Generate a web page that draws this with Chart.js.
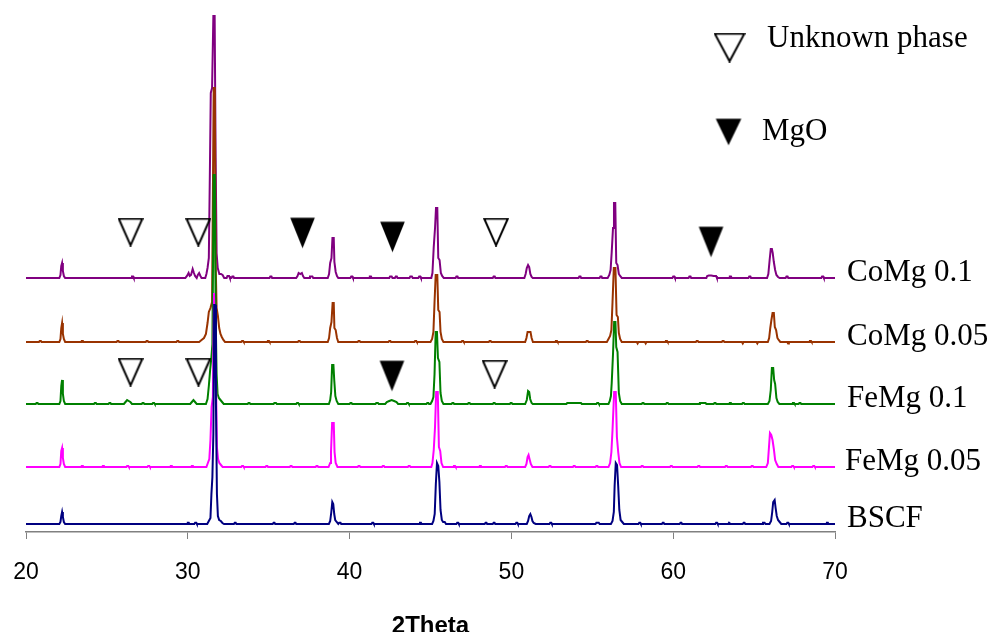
<!DOCTYPE html>
<html>
<head>
<meta charset="utf-8">
<title>XRD patterns</title>
<script src="https://cdn.jsdelivr.net/npm/chart.js@4.4.1/dist/chart.umd.min.js"></script>
<style>
  html, body { margin: 0; padding: 0; background: #ffffff; }
  #wrap { width: 995px; height: 632px; position: relative; }
</style>
</head>
<body>
<div id="wrap"><canvas id="xrd" width="995" height="632"></canvas></div>
<script>
// ---- data: [2theta, intensity above the pattern's own baseline] (a.u.) ----
const seriesNames = ['BSCF', 'FeMg 0.05', 'FeMg 0.1', 'CoMg 0.05', 'CoMg 0.1'];
const seriesColors = ['#000080', '#ff00ff', '#008000', '#993300', '#800080'];
// vertical stacking offset of each pattern
const offsets = [8, 65, 128, 190, 254];
// where each pattern name sits on the right
const labelAngles = [70.74, 70.62, 70.74, 70.74, 70.74];

const bscf = [
  [20,0],[22.06,0],[22.13,2],[22.18,8],[22.23,12],[22.28,7],[22.34,2],[22.42,0],
  [29.96,0],[30.0,1.2],[30.06,1.2],[30.1,0],[30.4,0],[30.45,1.2],[30.52,1.2],[30.56,0],
  [31.2,0],[31.3,3],[31.4,6],[31.46,30],[31.52,47],[31.58,90],[31.63,219],[31.69,219],[31.74,120],[31.8,30],[31.86,8],[31.94,4],[32.04,3],[32.14,1],[32.24,0],
  [32.85,0],[32.9,1.2],[32.96,1.2],[33.0,0],
  [35.25,0],[35.3,1.2],[35.36,1.2],[35.4,0],
  [36.55,0],[36.6,1.2],[36.66,1.2],[36.7,0],
  [38.72,0],[38.8,3],[38.87,12],[38.93,22],[38.99,20],[39.05,10],[39.11,4],[39.2,2],[39.3,0],[39.36,1.2],[39.44,1.2],[39.48,0],
  [41.35,0],[41.4,1.2],[41.46,1.2],[41.5,0],
  [44.3,0],[44.35,1.2],[44.41,1.2],[44.45,0],
  [45.1,0],[45.18,3],[45.26,10],[45.33,40],[45.4,61],[45.48,58],[45.55,42],[45.62,14],[45.7,4],[45.78,2],[45.88,2],[45.96,0],
  [46.6,0],[46.65,1.2],[46.71,1.2],[46.75,0],
  [48.35,0],[48.4,1.2],[48.46,1.2],[48.5,0],[48.85,0],[48.9,1.2],[48.96,1.2],[49.0,0],
  [50.25,0],[50.3,1.2],[50.36,1.2],[50.4,0],
  [50.95,0],[51.03,3],[51.1,8],[51.17,10],[51.24,7],[51.3,3],[51.38,1],[51.5,0],
  [52.35,0],[52.4,1.2],[52.46,1.2],[52.5,0],
  [55.2,0],[55.25,1.2],[55.4,1.2],[55.45,0],
  [56.15,0],[56.25,3],[56.33,12],[56.38,38],[56.45,61],[56.53,59],[56.6,38],[56.67,14],[56.75,4],[56.85,2],[56.95,0],
  [57.85,0],[57.9,1.2],[57.96,1.2],[58.0,0],
  [59.3,0],[59.35,1.2],[59.41,1.2],[59.45,0],
  [60.4,0],[60.45,1.2],[60.51,1.2],[60.55,0],
  [62.6,0],[62.65,1.2],[62.71,1.2],[62.75,0],
  [63.4,0],[63.45,1.2],[63.51,1.2],[63.55,0],
  [64.3,0],[64.35,1.2],[64.41,1.2],[64.45,0],
  [65.5,0],[65.55,1.2],[65.65,1.2],[65.7,0],
  [65.95,0],[66.05,3],[66.12,12],[66.18,22],[66.27,24],[66.33,16],[66.4,8],[66.48,4],[66.58,2],[66.68,0],
  [67.0,0],[67.05,1.2],[67.11,1.2],[67.15,0],
  [69.45,0],[69.5,1.2],[69.56,1.2],[69.6,0],[70,0]
];

const femg005 = [
  [20,0],[22.06,0],[22.13,3],[22.18,16],[22.23,19],[22.28,9],[22.34,3],[22.42,0],
  [23.4,0],[23.45,1],[23.52,1],[23.56,0],[24.7,0],[24.75,1],[24.82,1],[24.86,0],
  [26.2,0],[26.25,1],[26.32,1],[26.36,0],[27.5,0],[27.55,1],[27.62,1],[27.66,0],
  [28.9,0],[28.95,1],[29.02,1],[29.06,0],[30.2,0],[30.25,1],[30.32,1],[30.36,0],
  [31.15,0],[31.24,4],[31.33,8],[31.4,27],[31.47,60],[31.55,70],[31.62,174],[31.68,174],[31.74,90],[31.8,20],[31.87,8],[31.95,4],[32.05,2],[32.15,0],
  [33.3,0],[33.35,1],[33.42,1],[33.46,0],[34.8,0],[34.85,1],[34.92,1],[34.96,0],
  [36.3,0],[36.35,1],[36.42,1],[36.46,0],[37.9,0],[37.95,1],[38.02,1],[38.06,0],
  [38.7,0],[38.8,4],[38.85,15],[38.92,44],[39.02,44],[39.07,15],[39.14,4],[39.25,0],
  [40.5,0],[40.55,1],[40.62,1],[40.66,0],[42.0,0],[42.05,1],[42.12,1],[42.16,0],[43.6,0],[43.65,1],[43.72,1],[43.76,0],
  [45.05,0],[45.12,4],[45.2,17],[45.28,40],[45.35,75],[45.45,75],[45.52,20],[45.6,16],[45.68,4],[45.78,0],
  [46.4,0],[46.45,1],[46.52,1],[46.56,0],[48.0,0],[48.05,1],[48.12,1],[48.16,0],[49.6,0],[49.65,1],[49.72,1],[49.76,0],
  [50.85,0],[50.93,3],[51.0,10],[51.06,12],[51.12,8],[51.2,3],[51.3,0],
  [52.3,0],[52.35,1],[52.42,1],[52.46,0],[53.8,0],[53.85,1],[53.92,1],[53.96,0],[55.2,0],[55.25,1],[55.32,1],[55.36,0],
  [56.0,0],[56.1,4],[56.18,15],[56.25,37],[56.35,75],[56.45,75],[56.52,30],[56.6,15],[56.68,4],[56.78,0],
  [58.0,0],[58.05,1],[58.12,1],[58.16,0],[59.8,0],[59.85,1],[59.92,1],[59.96,0],[61.5,0],[61.55,1],[61.62,1],[61.66,0],
  [63.2,0],[63.25,1],[63.32,1],[63.36,0],[64.8,0],[64.85,1],[64.92,1],[64.96,0],
  [65.75,0],[65.85,4],[65.92,20],[65.98,34],[66.06,32],[66.14,27],[66.22,18],[66.3,7],[66.4,3],[66.5,0],
  [67.3,0],[67.35,1],[67.42,1],[67.46,0],[68.6,0],[68.65,1],[68.72,1],[68.76,0],[70,0]
];

const femg01 = [
  [20,0],[20.6,0],[20.65,1],[20.72,1],[20.76,0],
  [22.06,0],[22.13,3],[22.18,18],[22.23,24],[22.28,10],[22.34,3],[22.42,0],
  [24.2,0],[24.25,1],[24.32,1],[24.36,0],[25.1,0],[25.15,1],[25.22,1],[25.26,0],
  [26.05,0],[26.15,2],[26.25,4],[26.35,3],[26.45,2],[26.55,0],
  [27.15,0],[27.2,1],[27.27,1],[27.31,0],[27.8,0],[27.85,1],[27.92,1],[27.96,0],
  [30.15,0],[30.25,2],[30.35,4],[30.45,2],[30.55,0],
  [31.12,0],[31.22,5],[31.3,18],[31.38,34],[31.45,45],[31.52,60],[31.6,229],[31.67,229],[31.72,90],[31.78,30],[31.84,10],[31.92,6],[32.02,4],[32.12,2],[32.22,0],
  [33.7,0],[33.75,1],[33.82,1],[33.86,0],[35.3,0],[35.35,1],[35.45,1],[35.5,0],[36.7,0],[36.75,1],[36.82,1],[36.86,0],
  [38.72,0],[38.8,4],[38.86,12],[38.92,39],[39.0,39],[39.05,24],[39.12,8],[39.2,3],[39.3,0],
  [40.0,0],[40.05,1],[40.12,1],[40.16,0],[41.6,0],[41.65,1],[41.75,1],[41.8,0],
  [42.2,0],[42.3,2],[42.45,3],[42.6,4],[42.75,3],[42.9,2],[43.0,0],
  [43.5,0],[43.55,1],[43.62,1],[43.66,0],[44.75,0],[44.8,1],[44.87,1],[44.91,0],
  [45.0,0],[45.1,3],[45.18,7],[45.25,30],[45.32,72],[45.4,72],[45.46,46],[45.55,42],[45.62,11],[45.7,3],[45.8,0],
  [46.3,0],[46.35,1],[46.42,1],[46.46,0],[47.3,0],[47.35,1],[47.42,1],[47.46,0],[48.85,0],[48.9,1],[48.97,1],[49.01,0],[49.9,0],[49.95,1],[50.02,1],[50.06,0],
  [50.85,0],[50.95,4],[51.03,13],[51.1,12],[51.16,5],[51.25,1],[51.32,0],
  [53.4,0],[53.45,1],[54.3,1],[54.35,0],[55.25,0],[55.3,1],[55.37,1],[55.41,0],
  [56.0,0],[56.08,3],[56.15,8],[56.2,21],[56.28,50],[56.35,82],[56.43,82],[56.48,57],[56.56,52],[56.64,11],[56.72,3],[56.82,0],
  [58.05,0],[58.1,1],[58.17,1],[58.21,0],[59.55,0],[59.6,1],[59.67,1],[59.71,0],
  [61.6,0],[61.65,1],[62.0,1],[62.05,0],[62.5,0],[62.55,1],[62.62,1],[62.66,0],
  [63.45,0],[63.5,1],[63.57,1],[63.61,0],[64.25,0],[64.3,1],[64.37,1],[64.41,0],
  [65.85,0],[65.95,3],[66.03,14],[66.1,36],[66.18,36],[66.24,24],[66.3,20],[66.38,6],[66.46,2],[66.56,0],
  [67.35,0],[67.4,1],[67.47,1],[67.51,0],[67.75,0],[67.8,1],[67.87,1],[67.91,0],[70,0]
];

const comg005 = [
  [20,0],[20.8,0],[20.85,1],[20.92,1],[20.96,0],
  [22.06,0],[22.13,3],[22.18,14],[22.23,19],[22.28,8],[22.34,3],[22.42,0],
  [23.4,0],[23.45,1],[23.52,1],[23.56,0],[25.6,0],[25.65,1],[25.72,1],[25.76,0],[27.4,0],[27.45,1],[27.52,1],[27.56,0],[29.3,0],[29.35,1],[29.42,1],[29.46,0],
  [30.7,0],[30.85,2],[31.0,4],[31.12,8],[31.22,19],[31.3,30],[31.4,34],[31.5,40],[31.6,254],[31.67,254],[31.72,80],[31.78,34],[31.86,26],[31.94,14],[32.02,8],[32.1,5],[32.2,2],[32.3,0],
  [33.3,0],[33.35,1],[33.42,1],[33.46,0],[34.9,0],[34.95,1],[35.02,1],[35.06,0],[36.8,0],[36.85,1],[36.92,1],[36.96,0],
  [38.65,0],[38.73,4],[38.8,14],[38.88,20],[38.95,39],[39.02,39],[39.06,14],[39.14,12],[39.22,4],[39.3,0],
  [40.5,0],[40.55,1],[40.62,1],[40.66,0],[42.4,0],[42.45,1],[42.52,1],[42.56,0],[44.0,0],[44.05,1],[44.12,1],[44.16,0],
  [45.0,0],[45.1,3],[45.18,10],[45.25,40],[45.32,67],[45.42,67],[45.48,32],[45.56,30],[45.62,10],[45.7,3],[45.8,0],
  [46.9,0],[46.95,1],[47.02,1],[47.06,0],[48.6,0],[48.65,1],[48.72,1],[48.76,0],
  [50.85,0],[50.93,4],[51.0,10],[51.18,10],[51.25,4],[51.33,0],
  [52.7,0],[52.75,1],[52.82,1],[52.86,0],[54.6,0],[54.65,1],[54.72,1],[54.76,0],
  [55.9,0],[56.0,3],[56.1,6],[56.18,12],[56.25,40],[56.33,74],[56.43,74],[56.5,27],[56.58,25],[56.64,9],[56.72,3],[56.82,0],
  [57.75,0],[57.8,-1.5],[57.85,0],[58.25,0],[58.3,-1.5],[58.35,0],
  [59.5,0],[59.55,1],[59.62,1],[59.66,0],[61.4,0],[61.45,1],[61.52,1],[61.56,0],[63.0,0],[63.05,1],[63.12,1],[63.16,0],
  [64.25,0],[64.3,-1.5],[64.35,0],[65.15,0],[65.2,-1.5],[65.25,0],
  [65.85,0],[65.93,4],[66.0,14],[66.07,22],[66.14,29],[66.22,29],[66.28,15],[66.36,12],[66.44,4],[66.52,2],[66.62,0],
  [67.05,0],[67.1,-1.5],[67.15,0],[68.4,0],[68.45,1],[68.52,1],[68.56,0],[70,0]
];

const comg01 = [
  [20,0],[22.06,0],[22.13,3],[22.18,12],[22.23,15],[22.28,7],[22.34,2],[22.42,0],
  [26.5,0],[26.55,1.5],[26.62,1.5],[26.66,0],
  [29.85,0],[29.95,2],[30.05,5],[30.12,2],[30.2,3],[30.3,9],[30.38,5],[30.45,2],[30.55,0],[30.62,3],[30.7,5],[30.78,2],[30.85,0],
  [31.08,0],[31.15,4],[31.22,10],[31.3,20],[31.36,100],[31.42,185],[31.5,190],[31.58,262],[31.66,262],[31.72,120],[31.78,25],[31.85,10],[31.95,4],[32.05,4],[32.15,3],[32.25,0],
  [32.4,0],[32.45,2],[32.55,2],[32.6,0],[32.7,0],[32.75,1.5],[32.82,1.5],[32.86,0],
  [35.05,0],[35.1,1.5],[35.17,1.5],[35.21,0],
  [36.7,0],[36.78,2],[36.85,5],[36.95,4],[37.05,5],[37.12,2],[37.2,0],
  [37.5,0],[37.55,1.5],[37.7,1.5],[37.75,0],
  [38.65,0],[38.73,4],[38.8,15],[38.88,20],[38.94,40],[39.02,40],[39.06,16],[39.14,6],[39.22,2],[39.3,0],
  [40.05,0],[40.1,1.5],[40.17,1.5],[40.21,0],[41.2,0],[41.25,1.5],[41.32,1.5],[41.36,0],
  [42.45,0],[42.5,1.5],[42.6,1.5],[42.65,0],[42.8,0],[42.85,1.5],[42.92,1.5],[42.96,0],
  [43.7,0],[43.75,1.5],[43.85,1.5],[43.9,0],[44.25,0],[44.3,1.5],[44.37,1.5],[44.41,0],
  [45.05,0],[45.12,5],[45.2,31],[45.28,50],[45.34,70],[45.42,70],[45.48,20],[45.56,18],[45.64,5],[45.72,2],[45.82,0],
  [46.55,0],[46.6,1.5],[46.67,1.5],[46.71,0],[48.85,0],[48.9,1.5],[48.97,1.5],[49.01,0],
  [50.8,0],[50.88,4],[50.95,10],[51.03,13],[51.1,11],[51.17,4],[51.25,1],[51.32,0],
  [54.15,0],[54.2,1.5],[54.27,1.5],[54.31,0],[55.45,0],[55.5,1.5],[55.57,1.5],[55.61,0],
  [55.95,0],[56.05,3],[56.13,8],[56.2,26],[56.28,50],[56.34,75],[56.42,75],[56.48,15],[56.56,13],[56.64,4],[56.72,2],[56.82,0],
  [59.95,0],[60.0,1.5],[60.07,1.5],[60.11,0],[60.95,0],[61.0,1.5],[61.07,1.5],[61.11,0],
  [62.05,0],[62.1,2],[62.2,2.5],[62.35,2.5],[62.5,2],[62.65,2],[62.7,0],
  [63.45,0],[63.5,1.5],[63.57,1.5],[63.61,0],[64.65,0],[64.7,1.5],[64.77,1.5],[64.81,0],
  [65.8,0],[65.88,4],[65.96,18],[66.03,29],[66.1,29],[66.15,25],[66.22,16],[66.3,8],[66.38,3],[66.48,1],[66.58,0],
  [66.95,0],[67.0,1.5],[67.07,1.5],[67.11,0],[69.15,0],[69.2,1.5],[69.27,1.5],[69.31,0],[70,0]
];

const patterns = [bscf, femg005, femg01, comg005, comg01];

// phase markers (2theta, level in the stacked plot)
const unknownAngles = [26.46, 30.65, 49.05, 26.46, 30.66, 48.96];
const unknownLevels = [300, 300, 300, 160, 160, 158];
const mgoAngles = [37.09, 42.65, 62.34, 42.62];
const mgoLevels = [299, 295, 290, 156];

// key in the upper right
const keyAngles = [63.48, 63.42];
const keyLevels = [484.5, 400];
const keyTexts = ['Unknown phase', 'MgO'];
const keyTextAngles = [65.8, 65.49];
const keyTextLevels = [485, 392];

const xTicks = [20, 30, 40, 50, 60, 70];

// ---- drawing ----
function triangleImage(w, h, filled) {
  const c = document.createElement('canvas');
  c.width = w; c.height = h;
  const g = c.getContext('2d');
  g.beginPath();
  g.moveTo(1.2, 1.2); g.lineTo(w - 1.2, 1.2); g.lineTo(w / 2, h - 1.2); g.closePath();
  if (filled) {
    g.fillStyle = '#000'; g.fill();
  } else {
    g.lineWidth = 2; g.strokeStyle = '#000'; g.lineJoin = 'miter'; g.stroke();
  }
  return c;
}

const serif = '"Liberation Serif", "Times New Roman", serif';
const sans = '"Liberation Sans", Arial, sans-serif';

const traceDatasets = patterns.map((p, i) => ({
  label: seriesNames[i],
  data: p.map(([a, v]) => ({ x: a, y: offsets[i] + v })),
  showLine: true,
  borderColor: seriesColors[i],
  borderWidth: 2,
  pointRadius: 0,
  tension: 0,
  fill: false,
  borderJoinStyle: 'miter',
  clip: false
}));

const markerDatasets = [
  {
    label: 'Unknown phase',
    data: unknownAngles.map((a, i) => ({ x: a, y: unknownLevels[i] })),
    showLine: false, pointRadius: 10, pointStyle: triangleImage(26, 29, false)
  },
  {
    label: 'MgO',
    data: mgoAngles.map((a, i) => ({ x: a, y: mgoLevels[i] })),
    showLine: false, pointRadius: 10, pointStyle: triangleImage(27, 33, true)
  },
  {
    label: 'key unknown',
    data: [{ x: keyAngles[0], y: keyLevels[0] }],
    showLine: false, pointRadius: 10, pointStyle: triangleImage(32, 30, false)
  },
  {
    label: 'key MgO',
    data: [{ x: keyAngles[1], y: keyLevels[1] }],
    showLine: false, pointRadius: 10, pointStyle: triangleImage(28, 29, true)
  }
];

const textPlugin = {
  id: 'patternText',
  afterDatasetsDraw(chart) {
    const { ctx, scales: { x, y } } = chart;
    ctx.save();
    ctx.fillStyle = '#000';
    ctx.font = '31px ' + serif;
    ctx.textAlign = 'left';
    ctx.textBaseline = 'alphabetic';
    seriesNames.forEach((name, i) => {
      ctx.fillText(name, x.getPixelForValue(labelAngles[i]), y.getPixelForValue(offsets[i] - 3));
    });
    keyTexts.forEach((t, i) => {
      ctx.fillText(t, x.getPixelForValue(keyTextAngles[i]), y.getPixelForValue(keyTextLevels[i]));
    });
    ctx.restore();
  }
};

new Chart(document.getElementById('xrd'), {
  type: 'scatter',
  data: { datasets: [...markerDatasets, ...traceDatasets] },
  options: {
    responsive: false,
    animation: false,
    events: [],
    layout: { padding: { left: 26, right: 160, top: 12, bottom: 0 } },
    plugins: { legend: { display: false }, tooltip: { enabled: false } },
    scales: {
      x: {
        type: 'linear',
        min: 20, max: 70,
        afterFit(scale) { scale.height = 100; },
        afterBuildTicks(scale) { scale.ticks = xTicks.map(v => ({ value: v })); },
        ticks: {
          color: '#000',
          padding: 0,
          maxRotation: 0,
          font: { family: sans, size: 23, lineHeight: 2.9 }
        },
        grid: { display: true, drawOnChartArea: false, drawTicks: true, tickLength: 7, color: '#808080', lineWidth: 1 },
        border: { display: true, color: '#808080', width: 1.5 },
        title: {
          display: true,
          text: '2Theta',
          color: '#000',
          padding: 0,
          font: { family: sans, size: 24, weight: 'bold', lineHeight: 0.45 }
        }
      },
      y: { display: false, min: 0, max: 520 }
    }
  },
  plugins: [textPlugin]
});
</script>
</body>
</html>
